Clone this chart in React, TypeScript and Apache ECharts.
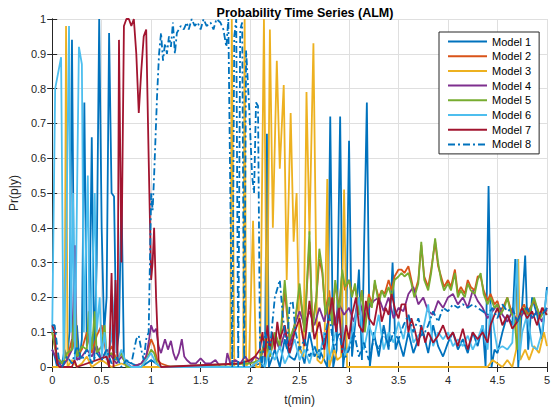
import { useEffect, useRef } from "react";
import * as echarts from "echarts";

const titleText = "Probability Time Series (ALM)";
const xName = "t(min)";
const yName = "Pr(p|y)";
const modelNames = ["Model 1", "Model 2", "Model 3", "Model 4", "Model 5", "Model 6", "Model 7", "Model 8"];
const modelColors = ["#0072BD", "#D95319", "#EDB120", "#7E2F8E", "#77AC30", "#4DBEEE", "#A2142F", "#0072BD"];

const m1 = [[0,0.05],[0.025,0.03],[0.05,0.0],[0.075,0.02],[0.1,0.01],[0.125,0.05],[0.15,0.02],[0.175,0.1],[0.2,0.94],[0.225,0.05],[0.25,0.12],[0.275,0.02],[0.3,0.08],[0.325,0.76],[0.35,0.06],[0.375,0.1],[0.4,0.66],[0.425,0.02],[0.45,0.3],[0.475,1.0],[0.5,0.4],[0.525,0.1],[0.55,0.2],[0.575,0.96],[0.6,0.5],[0.625,0.49],[0.65,0.04],[0.675,0.1],[0.7,0.5],[0.725,0.02],[0.8,0.01],[0.9,0.0],[1.0,0.02],[1.1,0.0],[2.0,0.0],[2.1,0.01],[2.15,0.0],[2.17,0.67],[2.19,0.0],[2.25,0.05],[2.3,0.0],[2.35,0.08],[2.4,0.03],[2.45,0.02],[2.5,0.06],[2.55,0.01],[2.6,0.1],[2.65,0.03],[2.7,0.05],[2.75,0.02],[2.78,0.0],[2.81,0.72],[2.84,0.0],[2.875,0.05],[2.91,0.72],[2.94,0.0],[2.97,0.08],[3.0,0.65],[3.03,0.03],[3.07,0.15],[3.1,0.28],[3.13,0.02],[3.18,0.76],[3.21,0.0],[3.25,0.1],[3.3,0.03],[3.35,0.12],[3.4,0.05],[3.44,0.3],[3.47,0.05],[3.5,0.08],[3.55,0.03],[3.6,0.1],[3.65,0.04],[3.7,0.08],[3.75,0.1],[3.8,0.04],[3.85,0.12],[3.9,0.06],[3.95,0.03],[4.0,0.07],[4.05,0.1],[4.1,0.05],[4.15,0.08],[4.2,0.04],[4.25,0.1],[4.3,0.06],[4.35,0.12],[4.38,0.0],[4.41,0.52],[4.44,0.0],[4.47,0.05],[4.5,0.04],[4.55,0.1],[4.6,0.15],[4.65,0.12],[4.68,0.31],[4.71,0.0],[4.75,0.18],[4.78,0.32],[4.81,0.05],[4.85,0.2],[4.9,0.15],[4.95,0.08],[5.0,0.23]];

const m2 = [[0,0.1],[0.05,0.02],[0.1,0.01],[0.15,0.02],[0.2,0.08],[0.25,0.03],[0.3,0.05],[0.35,0.1],[0.4,0.04],[0.45,0.09],[0.5,0.12],[0.55,0.03],[0.6,0.06],[0.65,0.02],[0.7,0.04],[0.75,0.01],[0.8,0.0],[0.9,0.01],[0.95,0.03],[1.0,0.08],[1.03,0.06],[1.06,0.02],[1.1,0.01],[1.2,0.0],[2.0,0.0],[2.1,0.02],[2.15,0.07],[2.2,0.03],[2.25,0.09],[2.3,0.05],[2.35,0.22],[2.4,0.07],[2.45,0.12],[2.5,0.22],[2.55,0.1],[2.6,0.36],[2.63,0.12],[2.67,0.2],[2.7,0.31],[2.73,0.27],[2.76,0.16],[2.8,0.22],[2.83,0.13],[2.86,0.24],[2.9,0.17],[2.93,0.27],[2.96,0.22],[3.0,0.25],[3.03,0.21],[3.06,0.23],[3.1,0.17],[3.13,0.22],[3.16,0.12],[3.2,0.21],[3.23,0.18],[3.26,0.24],[3.3,0.2],[3.33,0.22],[3.36,0.21],[3.4,0.25],[3.43,0.22],[3.46,0.26],[3.5,0.28],[3.53,0.28],[3.56,0.27],[3.6,0.29],[3.63,0.25],[3.66,0.21],[3.7,0.25],[3.73,0.35],[3.76,0.26],[3.8,0.23],[3.83,0.28],[3.87,0.36],[3.9,0.29],[3.93,0.26],[3.96,0.23],[4.0,0.25],[4.03,0.23],[4.07,0.28],[4.1,0.21],[4.13,0.23],[4.17,0.21],[4.2,0.25],[4.23,0.23],[4.27,0.22],[4.3,0.26],[4.33,0.26],[4.36,0.22],[4.4,0.19],[4.43,0.21],[4.47,0.18],[4.5,0.19],[4.53,0.16],[4.57,0.18],[4.6,0.2],[4.63,0.17],[4.67,0.15],[4.7,0.07],[4.73,0.16],[4.77,0.18],[4.8,0.15],[4.83,0.17],[4.87,0.19],[4.9,0.17],[4.93,0.15],[4.97,0.17],[5.0,0.16]];

const m3 = [[0,0.0],[0.1,0.0],[0.125,0.02],[0.14,0.98],[0.155,0.0],[0.2,0.02],[0.25,0.0],[0.3,0.01],[0.35,0.03],[0.4,0.0],[0.5,0.02],[0.6,0.0],[0.7,0.01],[0.8,0.0],[1.8,0.0],[1.815,1.0],[1.84,0.0],[1.93,0.0],[1.945,1.0],[1.96,0.0],[1.99,0.02],[2.03,0.42],[2.06,0.0],[2.1,0.0],[2.14,1.0],[2.17,0.02],[2.2,0.97],[2.23,0.4],[2.27,0.88],[2.3,0.57],[2.34,0.81],[2.37,0.25],[2.41,0.73],[2.44,0.36],[2.47,0.5],[2.5,0.05],[2.54,0.03],[2.57,0.79],[2.6,0.38],[2.64,0.93],[2.68,0.02],[2.72,0.01],[2.75,0.03],[2.78,0.54],[2.8,0.0],[2.85,0.05],[2.88,0.02],[2.92,0.03],[2.95,0.51],[2.98,0.0],[3.0,0.0],[4.4,0.0],[4.45,0.02],[4.5,0.01],[4.55,0.0],[4.6,0.02],[4.65,0.0],[4.69,0.05],[4.71,0.31],[4.73,0.02],[4.78,0.05],[4.82,0.02],[4.87,0.06],[4.92,0.04],[4.97,0.1],[5.0,0.06]];

const m4 = [[0,0.05],[0.05,0.02],[0.1,0.0],[0.15,0.02],[0.2,0.05],[0.23,0.35],[0.25,0.02],[0.3,0.03],[0.35,0.05],[0.4,0.03],[0.45,0.06],[0.5,0.02],[0.55,0.05],[0.6,0.03],[0.65,0.01],[0.7,0.03],[0.75,0.01],[0.8,0.0],[0.9,0.01],[0.95,0.03],[0.98,0.08],[1.0,0.12],[1.025,0.1],[1.05,0.11],[1.075,0.06],[1.1,0.04],[1.14,0.08],[1.17,0.05],[1.2,0.075],[1.225,0.04],[1.25,0.02],[1.28,0.04],[1.31,0.08],[1.335,0.03],[1.36,0.02],[1.4,0.01],[1.45,0.01],[1.5,0.025],[1.55,0.01],[1.6,0.01],[1.65,0.02],[1.7,0.0],[1.75,0.0],[1.77,0.04],[1.8,0.01],[1.85,0.02],[1.9,0.01],[1.95,0.03],[2.0,0.01],[2.05,0.03],[2.1,0.02],[2.15,0.07],[2.2,0.04],[2.25,0.09],[2.3,0.05],[2.35,0.1],[2.4,0.06],[2.45,0.12],[2.5,0.16],[2.55,0.12],[2.6,0.16],[2.65,0.12],[2.7,0.17],[2.75,0.13],[2.8,0.2],[2.85,0.12],[2.9,0.18],[2.95,0.15],[3.0,0.17],[3.05,0.13],[3.1,0.2],[3.15,0.14],[3.2,0.17],[3.25,0.19],[3.3,0.2],[3.35,0.16],[3.4,0.2],[3.45,0.14],[3.5,0.17],[3.55,0.16],[3.6,0.21],[3.65,0.23],[3.7,0.18],[3.75,0.2],[3.8,0.16],[3.85,0.15],[3.9,0.19],[3.95,0.17],[4.0,0.2],[4.05,0.21],[4.1,0.18],[4.15,0.2],[4.2,0.17],[4.25,0.22],[4.3,0.19],[4.35,0.17],[4.4,0.14],[4.45,0.16],[4.5,0.18],[4.55,0.15],[4.6,0.13],[4.65,0.16],[4.7,0.13],[4.75,0.15],[4.8,0.17],[4.85,0.14],[4.9,0.16],[4.95,0.13],[5.0,0.17]];

const m5 = [[0,0.1],[0.05,0.03],[0.1,0.01],[0.15,0.04],[0.2,0.05],[0.23,0.2],[0.25,0.03],[0.3,0.06],[0.35,0.05],[0.37,0.16],[0.4,0.05],[0.43,0.16],[0.45,0.04],[0.5,0.06],[0.53,0.12],[0.55,0.03],[0.6,0.04],[0.65,0.02],[0.7,0.04],[0.75,0.0],[0.9,0.0],[0.95,0.02],[1.0,0.05],[1.03,0.04],[1.06,0.01],[1.1,0.0],[2.0,0.01],[2.1,0.02],[2.15,0.08],[2.2,0.03],[2.25,0.1],[2.3,0.06],[2.35,0.25],[2.4,0.08],[2.45,0.12],[2.5,0.24],[2.55,0.1],[2.6,0.39],[2.63,0.1],[2.67,0.2],[2.7,0.34],[2.73,0.28],[2.76,0.15],[2.8,0.2],[2.83,0.12],[2.86,0.25],[2.9,0.15],[2.93,0.28],[2.96,0.23],[3.0,0.25],[3.03,0.2],[3.06,0.24],[3.1,0.15],[3.13,0.22],[3.16,0.1],[3.2,0.2],[3.23,0.17],[3.26,0.25],[3.3,0.18],[3.33,0.22],[3.36,0.2],[3.4,0.23],[3.43,0.2],[3.46,0.25],[3.5,0.26],[3.53,0.27],[3.56,0.26],[3.6,0.27],[3.63,0.24],[3.66,0.2],[3.7,0.24],[3.73,0.36],[3.76,0.25],[3.8,0.22],[3.83,0.27],[3.87,0.37],[3.9,0.3],[3.93,0.25],[3.96,0.22],[4.0,0.24],[4.03,0.22],[4.07,0.27],[4.1,0.2],[4.13,0.22],[4.17,0.2],[4.2,0.24],[4.23,0.22],[4.27,0.21],[4.3,0.25],[4.33,0.27],[4.36,0.21],[4.4,0.18],[4.43,0.2],[4.47,0.17],[4.5,0.18],[4.53,0.15],[4.57,0.17],[4.6,0.2],[4.63,0.16],[4.67,0.14],[4.7,0.05],[4.73,0.15],[4.77,0.17],[4.8,0.14],[4.83,0.16],[4.87,0.2],[4.9,0.17],[4.93,0.14],[4.97,0.16],[5.0,0.15]];

const m6 = [[0,0.1],[0.03,0.8],[0.09,0.89],[0.115,0.02],[0.14,0.3],[0.17,0.98],[0.19,0.1],[0.21,0.5],[0.23,0.02],[0.27,0.92],[0.3,0.87],[0.32,0.1],[0.36,0.55],[0.38,0.02],[0.43,0.5],[0.45,0.1],[0.48,0.2],[0.5,0.03],[0.53,0.1],[0.55,0.02],[0.6,0.08],[0.64,0.24],[0.66,0.02],[0.7,0.05],[0.75,0.01],[0.8,0.0],[0.9,0.0],[0.95,0.02],[1.0,0.04],[1.05,0.01],[1.1,0.0],[2.0,0.0],[2.1,0.02],[2.15,0.0],[2.2,0.05],[2.25,0.02],[2.3,0.06],[2.35,0.01],[2.4,0.04],[2.45,0.08],[2.5,0.02],[2.55,0.05],[2.6,0.01],[2.65,0.06],[2.7,0.03],[2.75,0.1],[2.8,0.02],[2.85,0.08],[2.9,0.15],[2.95,0.03],[3.0,0.06],[3.05,0.12],[3.1,0.2],[3.15,0.05],[3.2,0.12],[3.25,0.08],[3.3,0.15],[3.35,0.05],[3.4,0.1],[3.45,0.07],[3.5,0.13],[3.55,0.08],[3.6,0.15],[3.65,0.07],[3.7,0.09],[3.75,0.11],[3.8,0.18],[3.85,0.06],[3.9,0.1],[3.95,0.08],[4.0,0.1],[4.05,0.06],[4.1,0.08],[4.15,0.06],[4.2,0.09],[4.25,0.05],[4.3,0.08],[4.35,0.12],[4.4,0.05],[4.43,0.18],[4.47,0.1],[4.5,0.05],[4.55,0.06],[4.6,0.05],[4.65,0.07],[4.7,0.31],[4.72,0.02],[4.75,0.1],[4.8,0.15],[4.85,0.06],[4.9,0.05],[4.95,0.1],[5.0,0.22]];

const m7 = [[0,0.12],[0.025,0.1],[0.05,0.01],[0.075,0.0],[0.2,0.0],[0.225,0.02],[0.25,0.0],[0.55,0.03],[0.575,0.0],[0.6,0.27],[0.62,0.0],[0.64,0.25],[0.66,0.02],[0.675,0.94],[0.7,0.3],[0.725,0.98],[0.75,1.0],[0.775,1.0],[0.8,0.98],[0.825,1.0],[0.85,0.9],[0.875,0.73],[0.9,0.85],[0.925,0.95],[0.95,0.97],[0.975,0.6],[1.0,0.25],[1.015,0.3],[1.03,0.4],[1.05,0.2],[1.075,0.02],[1.1,0.0],[1.9,0.01],[2.0,0.02],[2.05,0.03],[2.1,0.05],[2.125,0.1],[2.15,0.03],[2.175,0.12],[2.2,0.05],[2.225,0.1],[2.25,0.05],[2.275,0.13],[2.3,0.08],[2.35,0.12],[2.4,0.04],[2.45,0.1],[2.5,0.14],[2.55,0.06],[2.6,0.19],[2.65,0.08],[2.7,0.13],[2.75,0.05],[2.8,0.15],[2.83,0.2],[2.87,0.1],[2.9,0.17],[2.93,0.04],[2.97,0.12],[3.0,0.08],[3.03,0.15],[3.07,0.2],[3.1,0.12],[3.14,0.1],[3.17,0.19],[3.2,0.14],[3.25,0.12],[3.3,0.2],[3.33,0.13],[3.37,0.17],[3.4,0.15],[3.43,0.21],[3.47,0.16],[3.5,0.14],[3.53,0.18],[3.57,0.18],[3.6,0.1],[3.63,0.14],[3.67,0.1],[3.7,0.06],[3.73,0.12],[3.77,0.07],[3.8,0.1],[3.85,0.07],[3.9,0.09],[3.95,0.12],[4.0,0.08],[4.05,0.1],[4.1,0.06],[4.15,0.11],[4.2,0.05],[4.25,0.1],[4.3,0.08],[4.35,0.1],[4.4,0.07],[4.43,0.12],[4.47,0.15],[4.5,0.17],[4.55,0.12],[4.6,0.15],[4.65,0.11],[4.7,0.13],[4.75,0.17],[4.8,0.14],[4.85,0.16],[4.9,0.12],[4.95,0.17],[5.0,0.15]];

const m8 = [[0,0.12],[0.025,0.12],[0.05,0.06],[0.075,0.01],[0.1,0.0],[0.15,0.03],[0.2,0.01],[0.25,0.06],[0.3,0.02],[0.35,0.05],[0.4,0.01],[0.45,0.04],[0.5,0.02],[0.55,0.05],[0.6,0.01],[0.65,0.03],[0.7,0.0],[0.75,0.02],[0.8,0.01],[0.85,0.08],[0.875,0.09],[0.9,0.05],[0.925,0.02],[0.95,0.08],[0.975,0.1],[1.0,0.5],[1.015,0.45],[1.03,0.55],[1.06,0.78],[1.08,0.9],[1.1,0.96],[1.12,0.88],[1.14,0.93],[1.16,0.9],[1.18,0.95],[1.2,0.92],[1.22,0.99],[1.24,0.9],[1.26,0.96],[1.28,0.97],[1.3,0.98],[1.33,0.97],[1.36,0.99],[1.38,0.97],[1.41,1.0],[1.44,0.98],[1.47,0.99],[1.5,0.97],[1.53,1.0],[1.56,0.98],[1.6,0.99],[1.63,0.97],[1.66,1.0],[1.7,0.99],[1.73,0.97],[1.76,0.92],[1.78,1.0],[1.8,0.5],[1.82,0.0],[1.84,0.95],[1.86,1.0],[1.88,0.0],[1.9,0.97],[1.92,0.99],[1.94,0.0],[1.96,0.91],[1.99,0.75],[2.02,0.55],[2.04,0.5],[2.06,0.76],[2.08,0.75],[2.1,0.05],[2.12,0.0],[2.15,0.1],[2.2,0.05],[2.25,0.2],[2.3,0.25],[2.33,0.15],[2.37,0.05],[2.4,0.18],[2.43,0.19],[2.46,0.1],[2.5,0.05],[2.55,0.08],[2.6,0.03],[2.65,0.06],[2.7,0.02],[2.75,0.08],[2.8,0.15],[2.85,0.05],[2.9,0.1],[2.95,0.02],[3.0,0.05],[3.05,0.1],[3.1,0.03],[3.15,0.07],[3.2,0.02],[3.25,0.08],[3.3,0.05],[3.35,0.1],[3.4,0.06],[3.45,0.1],[3.5,0.08],[3.55,0.12],[3.6,0.15],[3.65,0.1],[3.7,0.14],[3.75,0.09],[3.8,0.12],[3.85,0.16],[3.9,0.13],[3.95,0.17],[4.0,0.16],[4.05,0.18],[4.1,0.17],[4.15,0.18],[4.2,0.17],[4.25,0.18],[4.3,0.17],[4.35,0.16],[4.4,0.15],[4.45,0.17],[4.5,0.14],[4.55,0.18],[4.6,0.16],[4.65,0.17],[4.7,0.13],[4.75,0.16],[4.8,0.17],[4.85,0.14],[4.9,0.16],[4.95,0.15],[5.0,0.17]];

const modelData = [m1, m2, m3, m4, m5, m6, m7, m8];

const FONT = "'Liberation Sans', Arial, Helvetica, sans-serif";
const AX = "#262626";
const GRID = "#dfdfdf";

export default function App() {
  const ref = useRef<HTMLDivElement>(null);
  useEffect(() => {
    if (!ref.current) return;
    const chart = echarts.init(ref.current, undefined, { renderer: "svg" });
    const baseAxis = {
      type: "value" as const,
      axisLine: { show: true, lineStyle: { color: AX, width: 1 } },
      axisTick: { show: true, inside: true, length: 5, lineStyle: { color: AX } },
      axisLabel: { color: AX, fontSize: 11, fontFamily: FONT },
    };
    chart.setOption({
      animation: false,
      backgroundColor: "#fff",
      textStyle: { fontFamily: FONT },
      title: {
        text: titleText,
        left: 300,
        top: 1,
        textAlign: "center",
        textStyle: { fontSize: 12.5, fontWeight: "bold", color: "#000", fontFamily: FONT },
      },
      grid: { left: 52, right: 4, top: 19, bottom: 47, containLabel: false },
      legend: {
        orient: "vertical",
        left: 439,
        top: 32,
        backgroundColor: "#fff",
        borderColor: AX,
        borderWidth: 1,
        padding: [4, 8, 4, 8],
        itemWidth: 39,
        itemHeight: 12,
        itemGap: 3.7,
        itemStyle: { opacity: 0, color: "transparent", borderColor: "transparent", borderWidth: 0 },
        lineStyle: { width: 2 },
        textStyle: { fontSize: 11, color: "#000", fontFamily: FONT },
        data: modelNames,
      },
      xAxis: [
        {
          ...baseAxis,
          min: 0,
          max: 5,
          interval: 0.5,
          position: "bottom",
          axisLabel: { ...baseAxis.axisLabel, margin: 7 },
          splitLine: { show: true, lineStyle: { color: GRID, width: 1 } },
          name: xName,
          nameLocation: "middle",
          nameGap: 27,
          nameTextStyle: { fontSize: 12, color: AX, fontFamily: FONT },
        },
        {
          ...baseAxis,
          min: 0,
          max: 5,
          interval: 0.5,
          position: "top",
          axisLabel: { show: false },
          splitLine: { show: false },
        },
      ],
      yAxis: [
        {
          ...baseAxis,
          min: 0,
          max: 1,
          interval: 0.1,
          position: "left",
          axisLabel: { ...baseAxis.axisLabel, margin: 6 },
          splitLine: { show: true, lineStyle: { color: GRID, width: 1 } },
          name: yName,
          nameLocation: "middle",
          nameGap: 32,
          nameTextStyle: { fontSize: 12, color: AX, fontFamily: FONT },
        },
        {
          ...baseAxis,
          min: 0,
          max: 1,
          interval: 0.1,
          position: "right",
          axisLabel: { show: false },
          splitLine: { show: false },
        },
      ],
      series: modelNames.map((name, i) => ({
        name,
        type: "line",
        xAxisIndex: 0,
        yAxisIndex: 0,
        data: modelData[i],
        symbol: "none",
        smooth: false,
        clip: true,
        lineStyle: {
          color: modelColors[i],
          width: 1.8,
          type: i === 7 ? [7, 3, 2, 3] : "solid",
        },
        itemStyle: { color: modelColors[i] },
        z: 2 + i,
      })),
    });
    return () => chart.dispose();
  }, []);
  return <div ref={ref} style={{ width: 553, height: 414, position: "absolute", left: 0, top: 0 }} />;
}
